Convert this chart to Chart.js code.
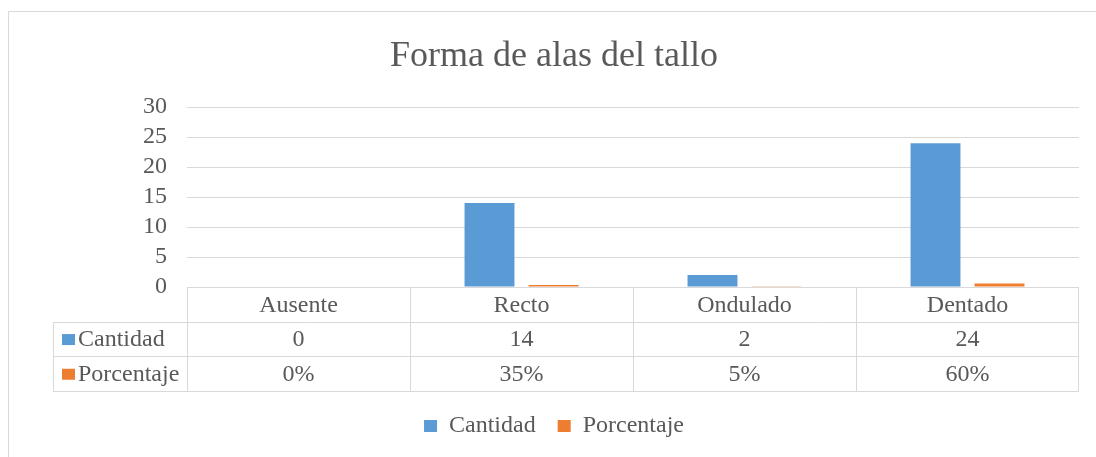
<!DOCTYPE html>
<html>
<head>
<meta charset="utf-8">
<script src="https://cdn.jsdelivr.net/npm/chart.js@4"></script>
<style>
  html, body { margin: 0; padding: 0; background: #fff; }
  #wrap { width: 1096px; height: 457px; position: relative; }
</style>
</head>
<body>
<div id="wrap"><canvas id="chart" width="1096" height="457"></canvas></div>
<script>
// Forma de alas del tallo - bar chart with data table underneath

const categories = ['Ausente', 'Recto', 'Ondulado', 'Dentado'];
const cantidad = [0, 14, 2, 24];
const porcentaje = [0, 0.35, 0.05, 0.6];
const porcentajeLabels = ['0%', '35%', '5%', '60%'];
const yTicks = [0, 5, 10, 15, 20, 25, 30];

const blue = '#5B9BD5';
const orange = '#ED7D31';
const textColor = '#595959';
const lineColor = '#D9D9D9';
const serif = "'Liberation Serif', 'Times New Roman', serif";

const padLeft = 29;
const legendPad = 22;

// draws the outer frame and the Excel style data table below the plot
const tablePlugin = {
  id: 'dataTable',
  beforeDraw(chart) {
    const ctx = chart.ctx;
    ctx.save();
    ctx.strokeStyle = lineColor;
    ctx.lineWidth = 1;
    ctx.beginPath();
    ctx.moveTo(8.5, 457);
    ctx.lineTo(8.5, 11.5);
    ctx.lineTo(1096, 11.5);
    ctx.stroke();
    ctx.restore();
  },
  afterDraw(chart) {
    const { ctx, chartArea } = chart;
    const x = chart.scales.x;
    const half = (x.getPixelForValue(1) - x.getPixelForValue(0)) / 2;
    const top = chartArea.bottom;
    const rowH = 34.7;
    const keyLeft = 53;
    const left = chartArea.left;
    const right = chartArea.right;

    ctx.save();
    ctx.strokeStyle = lineColor;
    ctx.lineWidth = 1;
    ctx.beginPath();
    // horizontal lines
    ctx.moveTo(left, Math.round(top) + 0.5); ctx.lineTo(right, Math.round(top) + 0.5);
    for (let r = 1; r <= 3; r++) {
      const y = Math.round(top + r * rowH) + 0.5;
      ctx.moveTo(keyLeft, y); ctx.lineTo(right, y);
    }
    // vertical lines
    const bottom = Math.round(top + 3 * rowH) + 0.5;
    ctx.moveTo(keyLeft + 0.5, Math.round(top + rowH)); ctx.lineTo(keyLeft + 0.5, bottom);
    categories.forEach((c, i) => {
      const xl = Math.round(x.getPixelForValue(i) - half) + 0.5;
      ctx.moveTo(xl, top); ctx.lineTo(xl, bottom);
    });
    const xr = Math.round(x.getPixelForValue(categories.length - 1) + half) - 0.5;
    ctx.moveTo(xr, top); ctx.lineTo(xr, bottom);
    ctx.stroke();

    ctx.fillStyle = textColor;
    ctx.font = '24px ' + serif;
    ctx.textBaseline = 'middle';
    ctx.textAlign = 'center';
    const rows = [categories, cantidad.map(String), porcentajeLabels];
    rows.forEach((row, r) => {
      const cy = top + r * rowH + rowH / 2 + 1;
      row.forEach((txt, i) => ctx.fillText(txt, x.getPixelForValue(i), cy));
    });

    // row keys
    const keys = [['Cantidad', blue], ['Porcentaje', orange]];
    ctx.textAlign = 'left';
    keys.forEach(([name, col], k) => {
      const cy = top + (k + 1) * rowH + rowH / 2 + 1;
      ctx.fillStyle = col;
      ctx.fillRect(keyLeft + 9, cy - 6, 13, 11);
      ctx.fillStyle = textColor;
      ctx.fillText(name, keyLeft + 25, cy);
    });
    ctx.restore();
  }
};

new Chart(document.getElementById('chart'), {
  type: 'bar',
  data: {
    labels: categories,
    datasets: [
      { label: 'Cantidad', data: cantidad, backgroundColor: blue, borderWidth: 0 },
      { label: 'Porcentaje', data: porcentaje, backgroundColor: orange, borderWidth: 0 }
    ]
  },
  options: {
    responsive: false,
    animation: false,
    devicePixelRatio: 1,
    datasets: { bar: { categoryPercentage: 0.574, barPercentage: 0.78 } },
    layout: { padding: { left: padLeft, right: 17, top: 0, bottom: 9 } },
    plugins: {
      title: {
        display: true,
        text: 'Forma de alas del tallo',
        color: textColor,
        font: { family: serif, size: 36, weight: 'normal' },
        padding: { top: 35, bottom: 29 }
      },
      legend: {
        position: 'bottom',
        labels: {
          color: textColor,
          font: { family: serif, size: 24 },
          boxWidth: 13,
          boxHeight: 12,
          padding: legendPad
        }
      },
      tooltip: { enabled: false }
    },
    scales: {
      x: {
        grid: { display: false },
        border: { display: false },
        ticks: { display: false },
        afterFit(s) { s.height = 127 - legendPad; }
      },
      y: {
        min: 0,
        max: 30,
        afterBuildTicks(s) { s.ticks = yTicks.map(v => ({ value: v })); },
        grid: { color: lineColor, drawTicks: false },
        border: { display: false },
        ticks: {
          color: textColor,
          font: { family: serif, size: 24 },
          padding: 20,
          autoSkip: false
        },
        afterFit(s) { s.width = 187 - padLeft; }
      }
    }
  },
  plugins: [tablePlugin]
});
</script>
</body>
</html>
